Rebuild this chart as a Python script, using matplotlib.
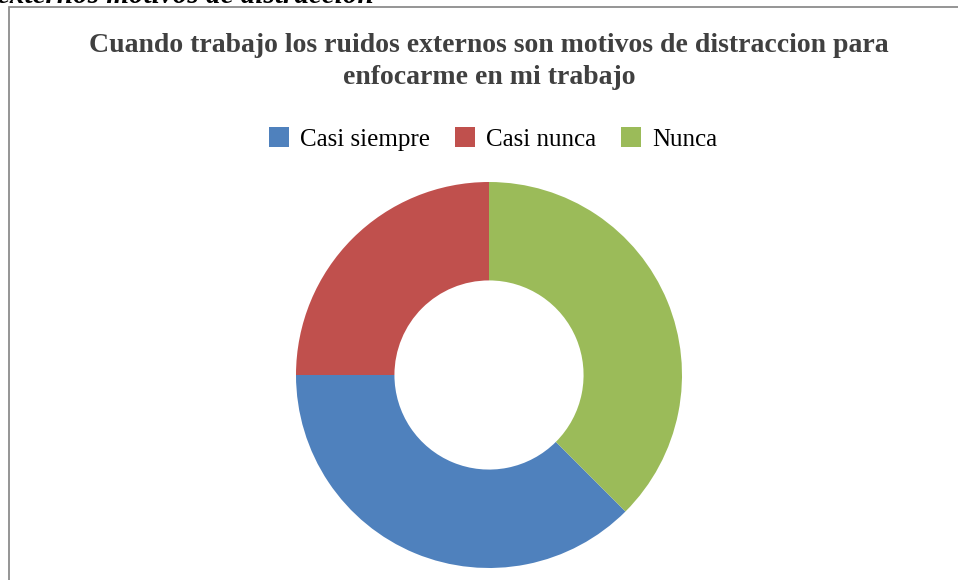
import matplotlib.pyplot as plt
from matplotlib.patches import Rectangle, Patch

# data
categories = ['Casi siempre', 'Casi nunca', 'Nunca']
values = [3, 2, 3]
colors = ['#4F81BD', '#C0504D', '#9BBB59']

title_lines = ['Cuando trabajo los ruidos externos son motivos de distraccion para',
               'enfocarme en mi trabajo']
caption = 'externos motivos de distraccion'

W, H = 958, 580
fig = plt.figure(figsize=(W / 100, H / 100), dpi=100)
fig.patch.set_facecolor('white')

serif = ['Liberation Serif', 'DejaVu Serif']

# chart frame (left and top edges visible, the rest is cut off)
fig.patches.append(Rectangle((9 / W, -0.1), 1.2, 1 - 7 / H + 0.1, transform=fig.transFigure,
                             fill=False, edgecolor='#8c8c8c', linewidth=1.3))

# caption of the page, cut off at the top of the picture
fig.text(-3 / W, 1 - 3 / H, caption, family=serif, fontsize=21, fontweight='bold',
         fontstyle='italic', color='black', ha='left', va='baseline')

for i, line in enumerate(title_lines):
    fig.text(489 / W, 1 - (46 + 31 * i) / H, line, family=serif, fontsize=20,
             fontweight='bold', color='#404040', ha='center', va='center')

# donut
cx, cy, r = 489, 375, 193
pad = 200
ax = fig.add_axes([(cx - pad) / W, (H - cy - pad) / H, 2 * pad / W, 2 * pad / H])
ax.pie(values, colors=colors, startangle=-45, counterclock=False, radius=1,
       wedgeprops=dict(width=0.51, linewidth=0))
lim = pad / r
ax.set_xlim(-lim, lim)
ax.set_ylim(-lim, lim)
ax.set_aspect('equal')
ax.axis('off')

handles = [Patch(facecolor=c, edgecolor='none') for c in colors]
fig.legend(handles, categories, loc='center', bbox_to_anchor=(493 / W, 1 - 139 / H),
           ncol=3, frameon=False, prop={'family': serif, 'size': 18},
           handlelength=0.8, handleheight=0.8, handletextpad=0.45, columnspacing=1.0)

fig.savefig('out.png', dpi=100)
